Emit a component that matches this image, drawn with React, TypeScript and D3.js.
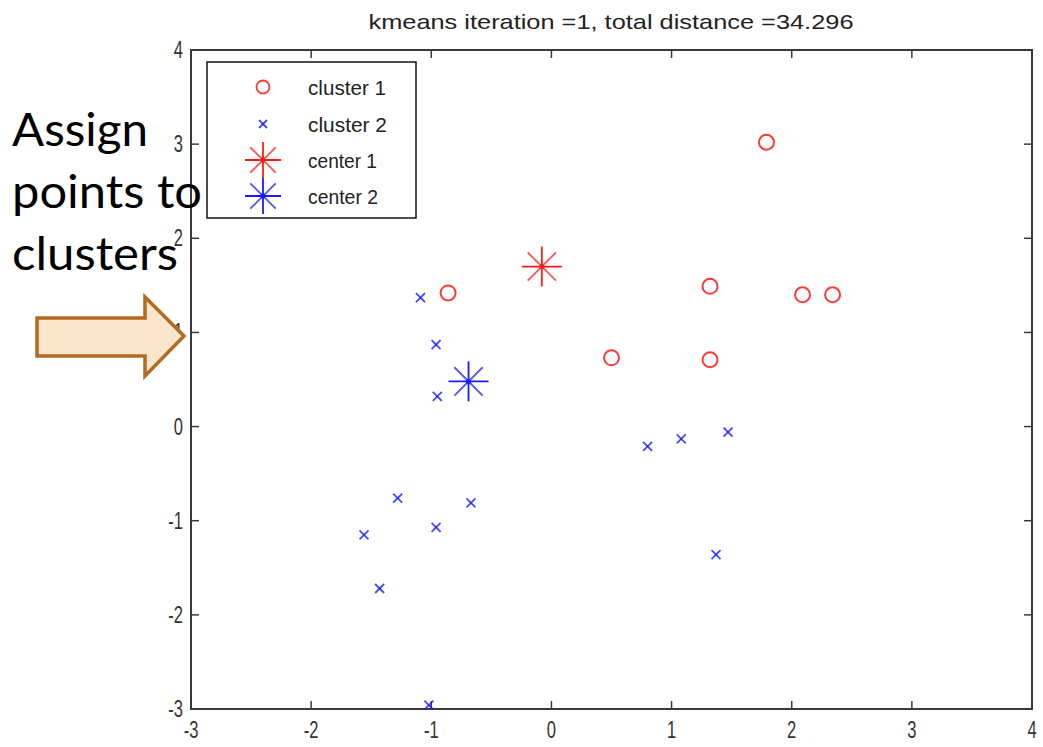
import React from 'react';
import * as d3 from 'd3';

const cluster1X = [1.79, -0.86, 1.32, 2.09, 2.34, 0.5, 1.32];
const cluster1Y = [3.02, 1.42, 1.49, 1.4, 1.4, 0.73, 0.71];
const cluster2X = [-1.09, -0.96, -0.95, 0.8, 1.08, 1.47, -1.28, -0.67, -0.96, -1.56, -1.43, 1.37, -1.02];
const cluster2Y = [1.37, 0.87, 0.32, -0.21, -0.13, -0.06, -0.76, -0.81, -1.07, -1.15, -1.72, -1.36, -2.96];
const centerX = [-0.08, -0.69];
const centerY = [1.7, 0.48];
const xTicks = [-3, -2, -1, 0, 1, 2, 3, 4];
const yTicks = [-3, -2, -1, 0, 1, 2, 3, 4];
const legendLabels = ['cluster 1', 'cluster 2', 'center 1', 'center 2'];
const legendWidths = [78, 79, 69, 70];
const titleText = 'kmeans iteration =1, total distance =34.296';
const annotationLines = ['Assign', 'points to', 'clusters'];
const annotationWidths = [136, 190, 166];

const RED = '#ff1a1a';
const BLUE = '#1a1aff';
const AXIS = '#3a3a3a';
const FONT = '"Liberation Sans", Arial, sans-serif';

function Star({ cx, cy, r, color }: { cx: number; cy: number; r: number; color: string }) {
  const d = r * Math.SQRT1_2;
  return (
    <g stroke={color} strokeWidth={1.8}>
      <line x1={cx} y1={cy - r} x2={cx} y2={cy + r} />
      <line x1={cx - r} y1={cy} x2={cx + r} y2={cy} />
      <line x1={cx - d} y1={cy - d} x2={cx + d} y2={cy + d} strokeOpacity={0.75} />
      <line x1={cx - d} y1={cy + d} x2={cx + d} y2={cy - d} strokeOpacity={0.75} />
      <circle cx={cx} cy={cy} r={2.5} fill={color} stroke="none" />
    </g>
  );
}

function Cross({ cx, cy, s, color }: { cx: number; cy: number; s: number; color: string }) {
  return (
    <g stroke={color} strokeWidth={1.8} strokeOpacity={0.8}>
      <line x1={cx - s} y1={cy - s} x2={cx + s} y2={cy + s} />
      <line x1={cx - s} y1={cy + s} x2={cx + s} y2={cy - s} />
    </g>
  );
}

export default function App() {
  const width = 1043;
  const height = 747;
  const left = 191, right = 1032, top = 50, bottom = 709;
  const x = d3.scaleLinear().domain([-3, 4]).range([left, right]);
  const y = d3.scaleLinear().domain([-3, 4]).range([bottom, top]);
  const tickLen = 8;

  const legendX = 207, legendY = 62, legendW = 209, legendH = 156;
  const rowY = [87, 124, 160, 196];
  const markerX = 263, textX = 308;

  return (
    <svg width={width} height={height} style={{ position: 'absolute', left: 0, top: 0, background: '#fff' }}>
      <rect x={0} y={0} width={width} height={height} fill="#fff" />
      {/* title */}
      <text x={611} y={29} textAnchor="middle" fontFamily={FONT} fontSize={21} fill="#222"
        textLength={485} lengthAdjust="spacingAndGlyphs">{titleText}</text>

      {/* axes frame */}
      <rect x={left} y={top} width={right - left} height={bottom - top} fill="none" stroke={AXIS} strokeWidth={2} />
      {xTicks.map((t) => (
        <g key={'xt' + t}>
          <line x1={x(t)} x2={x(t)} y1={bottom} y2={bottom - tickLen} stroke={AXIS} strokeWidth={1.5} />
          <line x1={x(t)} x2={x(t)} y1={top} y2={top + tickLen} stroke={AXIS} strokeWidth={1.5} />
          <g transform={`translate(${x(t)},${bottom + 29}) scale(0.72,1)`}>
            <text textAnchor="middle" fontFamily={FONT} fontSize={23} fill="#333">{String(t)}</text>
          </g>
        </g>
      ))}
      {yTicks.map((t) => (
        <g key={'yt' + t}>
          <line x1={left} x2={left + tickLen} y1={y(t)} y2={y(t)} stroke={AXIS} strokeWidth={1.5} />
          <line x1={right} x2={right - tickLen} y1={y(t)} y2={y(t)} stroke={AXIS} strokeWidth={1.5} />
          <g transform={`translate(${left - 8},${y(t) + 8}) scale(0.72,1)`}>
            <text textAnchor="end" fontFamily={FONT} fontSize={23} fill="#333">{String(t)}</text>
          </g>
        </g>
      ))}

      {/* data */}
      {cluster1X.map((v, i) => (
        <circle key={'c1' + i} cx={x(v)} cy={y(cluster1Y[i])} r={7.5} fill="none" stroke={RED} strokeWidth={2} strokeOpacity={0.85} />
      ))}
      {cluster2X.map((v, i) => (
        <Cross key={'c2' + i} cx={x(v)} cy={y(cluster2Y[i])} s={4.5} color={BLUE} />
      ))}
      <Star cx={x(centerX[0])} cy={y(centerY[0])} r={20} color={RED} />
      <Star cx={x(centerX[1])} cy={y(centerY[1])} r={20} color={BLUE} />

      {/* legend */}
      <rect x={legendX} y={legendY} width={legendW} height={legendH} fill="#fff" stroke="#111" strokeWidth={1.5} />
      <circle cx={markerX} cy={rowY[0]} r={6.5} fill="none" stroke={RED} strokeWidth={1.8} strokeOpacity={0.85} />
      <Cross cx={markerX} cy={rowY[1]} s={4} color={BLUE} />
      <Star cx={markerX} cy={rowY[2]} r={18} color={RED} />
      <Star cx={markerX} cy={rowY[3]} r={18} color={BLUE} />
      {legendLabels.map((l, i) => (
        <text key={'lg' + i} x={textX} y={rowY[i] + 8} fontFamily={FONT} fontSize={21} fill="#222"
          textLength={legendWidths[i]} lengthAdjust="spacingAndGlyphs">{l}</text>
      ))}

      {/* annotation */}
      {annotationLines.map((l, i) => (
        <text key={'an' + i} x={12} y={146 + i * 62} fontFamily='Lato, "Open Sans", sans-serif' fontSize={46} fill="#000"
          textLength={annotationWidths[i]} lengthAdjust="spacingAndGlyphs">{l}</text>
      ))}
      <path d="M37,318 L145,318 L145,297 L184,336 L145,376 L145,356 L37,356 Z"
        fill="#fbe5cd" stroke="#b26b1f" strokeWidth={3.5} strokeLinejoin="miter" />
    </svg>
  );
}
